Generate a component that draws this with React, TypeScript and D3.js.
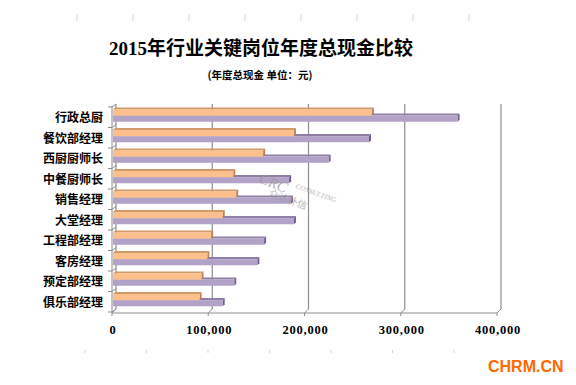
import React, { useEffect, useRef } from 'react';
import * as d3 from 'd3';

const categories = ['行政总厨', '餐饮部经理', '西厨厨师长', '中餐厨师长', '销售经理', '大堂经理', '工程部经理', '客房经理', '预定部经理', '俱乐部经理'];
const seriesOrange = [270000, 189000, 157000, 126000, 129000, 115000, 103000, 99000, 93000, 91000];
const seriesPurple = [359000, 267000, 225000, 184000, 186000, 189000, 158000, 151000, 127000, 115000];
const xTicks = [0, 100000, 200000, 300000, 400000];

const App: React.FC = () => {
  const svgRef = useRef<SVGSVGElement>(null);

  useEffect(() => {
    if (!svgRef.current) return;
    const svg = d3.select(svgRef.current);
    svg.selectAll('*').remove();

    const width = 576;
    const height = 385;
    const depth = 4; // 3D offset of the back wall

    svg.attr('width', width).attr('height', height).style('display', 'block').style('background', '#fff');

    const x = d3.scaleLinear().domain([0, 400000]).range([112, 497]);
    const y = d3.scaleBand<string>().domain(categories).range([107, 312]).paddingInner(0).paddingOuter(0);
    const top = 104;
    const floor = 313;

    // faint page marks top and bottom
    const marks = svg.append('g');
    d3.range(8).forEach(i => {
      marks.append('line').attr('x1', 77 + i * 56).attr('x2', 77 + i * 56).attr('y1', 14).attr('y2', 21)
        .attr('stroke', '#d6d6d6').attr('stroke-width', 1);
    });
    d3.range(7).forEach(i => {
      marks.append('line').attr('x1', 85 + i * 61.5).attr('x2', 85 + i * 61.5).attr('y1', 350).attr('y2', 353)
        .attr('stroke', '#c9d7e6').attr('stroke-width', 1);
    });

    // title
    svg.append('text')
      .attr('x', 261).attr('y', 55)
      .attr('text-anchor', 'middle')
      .style('font-family', '"Liberation Serif", "Noto Sans CJK SC", serif')
      .style('font-size', '19px')
      .style('font-weight', '600')
      .attr('fill', '#000')
      .text('2015年行业关键岗位年度总现金比较');

    svg.append('text')
      .attr('x', 260).attr('y', 79)
      .attr('text-anchor', 'middle')
      .style('font-family', '"Noto Sans CJK SC", sans-serif')
      .style('font-size', '10.5px')
      .style('font-weight', '700')
      .attr('fill', '#000')
      .text('(年度总现金 单位：元)');

    // back wall gridlines
    const grid = svg.append('g');
    xTicks.forEach(t => {
      grid.append('line')
        .attr('x1', x(t) + depth).attr('x2', x(t) + depth)
        .attr('y1', top).attr('y2', floor - depth)
        .attr('stroke', '#8c8c8c').attr('stroke-width', 1.2);
    });

    // left wall / category axis
    const axis = svg.append('g').attr('stroke', '#8c8c8c').attr('stroke-width', 1).attr('fill', 'none');
    axis.append('line').attr('x1', x(0)).attr('x2', x(0)).attr('y1', top + 2).attr('y2', floor);
    const bounds = categories.map(c => y(c) as number).concat([312]);
    bounds.forEach(b => {
      axis.append('path').attr('d', `M${x(0) - 4},${b} L${x(0)},${b} L${x(0) + depth},${b - 3}`);
    });

    // floor / value axis
    axis.append('line').attr('x1', x(0)).attr('x2', x(400000)).attr('y1', floor).attr('y2', floor);
    xTicks.forEach(t => {
      axis.append('path').attr('d', `M${x(t)},${floor + 3} L${x(t)},${floor} L${x(t) + depth},${floor - depth}`);
    });

    // bars
    const bw = y.bandwidth();
    const bars = svg.append('g');
    const drawBar = (v: number, yy: number, h: number, fill: string, edge: string, cap: string) => {
      const x0 = x(0) + 1;
      const x1 = x(v);
      bars.append('path')
        .attr('d', `M${x0},${yy} L${x0 + 2},${yy - 2} L${x1 + 2},${yy - 2} L${x1},${yy} Z`)
        .attr('fill', edge);
      bars.append('path')
        .attr('d', `M${x1},${yy} L${x1 + 2},${yy - 2} L${x1 + 2},${yy + h - 2} L${x1},${yy + h} Z`)
        .attr('fill', cap);
      bars.append('rect')
        .attr('x', x0).attr('y', yy)
        .attr('width', x1 - x0).attr('height', h)
        .attr('fill', fill);
    };
    categories.forEach((c, i) => {
      const y0 = y(c) as number;
      drawBar(seriesPurple[i], y0 + bw * 0.42, bw * 0.3, '#b3a2c7', '#8f7fa6', '#6f5b8c');
      drawBar(seriesOrange[i], y0 + bw * 0.12, bw * 0.3, '#fdc08c', '#d19a6b', '#b5825a');
    });

    // category labels
    svg.append('g')
      .selectAll('text')
      .data(categories)
      .join('text')
      .attr('x', 103)
      .attr('y', d => (y(d) as number) + bw / 2 + 5)
      .attr('text-anchor', 'end')
      .style('font-family', '"Noto Sans CJK SC", sans-serif')
      .style('font-size', '12px')
      .style('font-weight', '700')
      .attr('fill', '#000')
      .text(d => d);

    // value labels
    svg.append('g')
      .selectAll('text')
      .data(xTicks)
      .join('text')
      .attr('x', d => x(d) + 1)
      .attr('y', 334)
      .attr('text-anchor', 'middle')
      .style('font-family', '"Liberation Serif", serif')
      .style('font-size', '12.5px')
      .style('font-weight', '700')
      .style('letter-spacing', '0.8px')
      .attr('fill', '#000')
      .text(d => d3.format(',')(d));

    // watermark
    const wm = svg.append('g').attr('fill', '#9a9a9a').attr('opacity', 0.75)
      .style('font-family', '"Liberation Serif", serif');
    wm.append('text').attr('transform', 'translate(258,182) rotate(22)')
      .style('font-size', '15px').style('font-style', 'italic').text('CRC');
    wm.append('text').attr('transform', 'translate(295,188) rotate(20)')
      .style('font-size', '7px').style('font-style', 'italic').text('CONSULTING');
    wm.append('text').attr('transform', 'translate(268,196) rotate(20)')
      .style('font-family', '"Noto Sans CJK SC", sans-serif')
      .style('font-size', '10px').text('众达朴信');

    // site mark
    svg.append('text')
      .attr('x', 488).attr('y', 372)
      .style('font-family', '"Liberation Sans", Arial, sans-serif')
      .style('font-size', '16px')
      .style('font-weight', '700')
      .attr('fill', '#ff6a00')
      .text('CHRM.CN');
  }, []);

  return <svg ref={svgRef} style={{ position: 'absolute', left: 0, top: 0 }} />;
};

export default App;
